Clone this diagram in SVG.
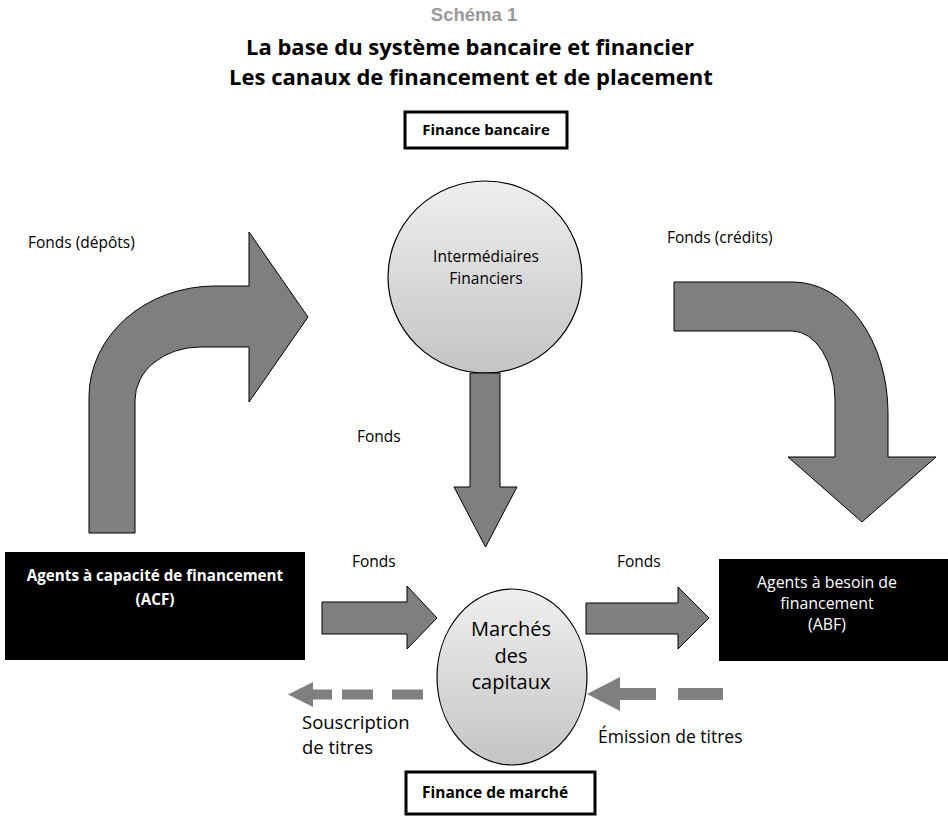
<svg xmlns="http://www.w3.org/2000/svg" width="948" height="816" viewBox="0 0 948 816">
<defs>
<linearGradient id="gc" x1="0" y1="0" x2="0" y2="1">
<stop offset="0" stop-color="#efefef"/>
<stop offset="1" stop-color="#c4c4c4"/>
</linearGradient>
<style>
.t{font-family:"Open Sans","Noto Sans",sans-serif;fill:#000}
.b{font-weight:bold}
.w{fill:#fff}
.ar{fill:#7f7f7f;stroke:#000;stroke-width:1}
.da{fill:#7f7f7f}
.circ{fill:url(#gc);stroke:#000;stroke-width:1.2}
.frame{fill:#fff;stroke:#000;stroke-width:3}
</style>
</defs>
<rect width="948" height="816" fill="#fff"/>
<g id="title">
<text x="474" y="21" text-anchor="middle" font-family="Liberation Sans,Arial,sans-serif" font-weight="bold" font-size="18.5" fill="#999">Schéma 1</text>
<text class="t b" x="470" y="55" text-anchor="middle" font-size="22">La base du système bancaire et financier</text>
<text class="t b" x="471" y="85" text-anchor="middle" font-size="22">Les canaux de financement et de placement</text>
</g>
<g id="finance-bancaire">
<rect class="frame" x="405" y="112" width="162" height="36"/>
<text class="t b" x="486" y="135" text-anchor="middle" font-size="15">Finance bancaire</text>
</g>
<g id="intermediaires">
<ellipse class="circ" cx="485" cy="277" rx="97" ry="96"/>
<text class="t" x="486" y="262" text-anchor="middle" font-size="15.5">Intermédiaires</text>
<text class="t" x="486" y="284" text-anchor="middle" font-size="15.5">Financiers</text>
</g>
<g id="acf">
<rect x="5" y="552" width="300" height="108" fill="#000"/>
<text class="t b w" x="155" y="581" text-anchor="middle" font-size="15.2">Agents à capacité de financement</text>
<text class="t b w" x="155" y="605" text-anchor="middle" font-size="15.2">(ACF)</text>
</g>
<g id="abf">
<rect x="719" y="559" width="229" height="102" fill="#000"/>
<text class="t w" x="827" y="588" text-anchor="middle" font-size="15.9">Agents à besoin de</text>
<text class="t w" x="827" y="609" text-anchor="middle" font-size="15.9">financement</text>
<text class="t w" x="827" y="630" text-anchor="middle" font-size="15.9">(ABF)</text>
</g>
<g id="marches">
<ellipse class="circ" cx="512" cy="677" rx="75" ry="88"/>
<text class="t" x="511" y="636" text-anchor="middle" font-size="20">Marchés</text>
<text class="t" x="511" y="663" text-anchor="middle" font-size="20">des</text>
<text class="t" x="511" y="689" text-anchor="middle" font-size="20">capitaux</text>
</g>
<g id="finance-marche">
<rect class="frame" x="406" y="772" width="189" height="42"/>
<text class="t b" x="422" y="798" font-size="15.5">Finance de marché</text>
</g>
<g id="connectors">
<path class="ar" d="M 89 533 L 89 397 A 126 111 0 0 1 215 286 L 249 286 L 249 232 L 308 317 L 249 402 L 249 347 L 200 347 A 65 53 0 0 0 135 400 L 135 533 Z"/>
<path class="ar" d="M 674 282 L 793 282 A 95 131 0 0 1 888 413 L 888 457 L 936 457 L 862 522 L 788 457 L 835 457 L 835 400 A 43 69 0 0 0 792 331 L 674 331 Z"/>
<path class="ar" d="M 470 373 L 500 373 L 500 487 L 517 487 L 485.5 547 L 454 487 L 470 487 Z"/>
<path class="ar" d="M 322 602 L 407 602 L 407 586 L 437 618 L 407 649 L 407 634 L 322 634 Z"/>
<path class="ar" d="M 586 603 L 678 603 L 678 587 L 709 618 L 678 649 L 678 634 L 586 634 Z"/>
<g class="da">
<polygon points="288,694.5 313,682 313,707"/>
<rect x="312" y="689.5" width="20" height="10"/>
<rect x="342" y="689.5" width="31" height="10"/>
<rect x="392" y="689.5" width="31" height="10"/>
<polygon points="587,694 620,677 620,711"/>
<rect x="619" y="688" width="37" height="12"/>
<rect x="678" y="688" width="45" height="12"/>
</g>
</g>
<g id="labels">
<text class="t" x="28" y="248" font-size="15.5">Fonds (dépôts)</text>
<text class="t" x="667" y="243" font-size="15.5">Fonds (crédits)</text>
<text class="t" x="357" y="442" font-size="15.5">Fonds</text>
<text class="t" x="352" y="567" font-size="15.5">Fonds</text>
<text class="t" x="617" y="567" font-size="15.5">Fonds</text>
<text class="t" x="302" y="729" font-size="18.5">Souscription</text>
<text class="t" x="302" y="754" font-size="18.5">de titres</text>
<text class="t" x="598" y="743" font-size="17.5">Émission de titres</text>
</g>
</svg>
